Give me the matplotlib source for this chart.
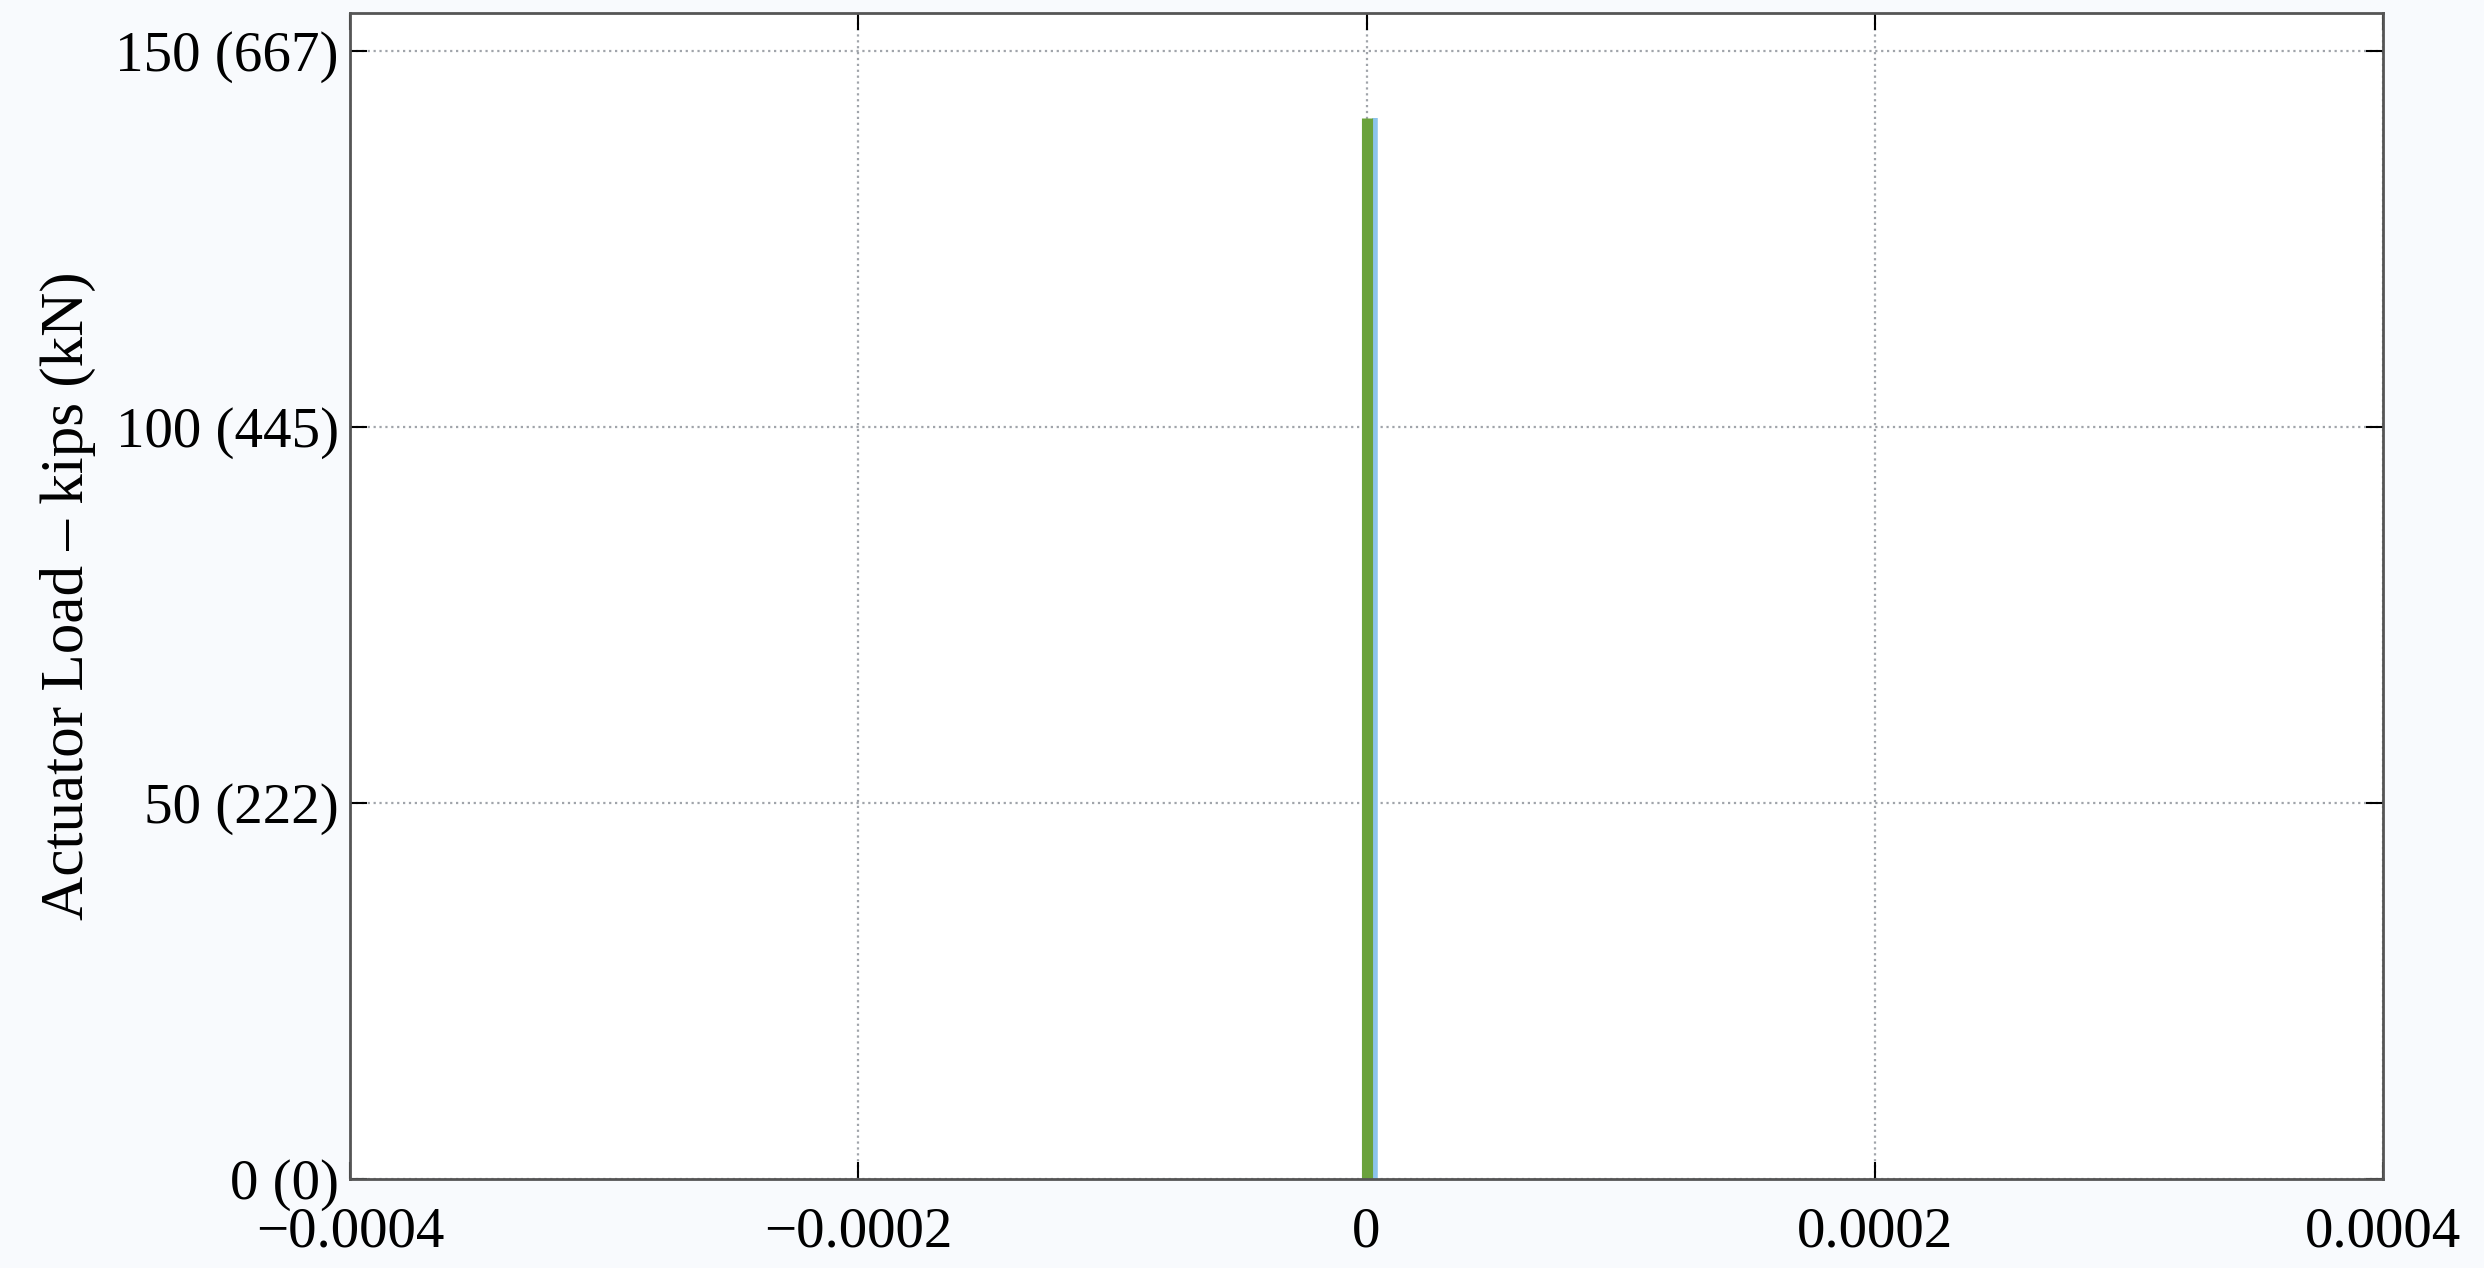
import matplotlib.pyplot as plt

# strain gauge readings vs actuator load
load_kips = [0, 141]
strain_gauge_a = [0.0, 0.0]
strain_gauge_b = [0.0000035, 0.0000035]

x_ticks = [-0.0004, -0.0002, 0, 0.0002, 0.0004]
x_tick_labels = ['\u22120.0004', '\u22120.0002', '0', '0.0002', '0.0004']
y_ticks = [0, 50, 100, 150]
y_tick_labels = ['0 (0)', '50 (222)', '100 (445)', '150 (667)']

plt.rcParams['font.family'] = ['Liberation Serif', 'DejaVu Serif']

fig = plt.figure(figsize=(24.84, 12.68), dpi=100)
fig.patch.set_facecolor('#f8fafd')
ax = fig.add_axes([350 / 2484, 1 - 1179 / 1268, 2033 / 2484, 1166 / 1268])
ax.set_facecolor('white')

ax.plot(strain_gauge_b, load_kips, color='#8cc4ec', lw=4, solid_capstyle='butt')
ax.plot(strain_gauge_a, load_kips, color='#6aa23c', lw=8, solid_capstyle='butt')

ax.set_xlim(-0.0004, 0.0004)
ax.set_ylim(0, 155)
ax.set_xticks(x_ticks)
ax.set_xticklabels(x_tick_labels)
ax.set_yticks(y_ticks)
ax.set_yticklabels(y_tick_labels)
ax.tick_params(direction='in', length=12, width=1.5, labelsize=41, top=True, right=True)
ax.tick_params(axis='x', pad=20)
ax.tick_params(axis='y', pad=8)

ax.grid(True, linestyle=':', color='#a0a4aa', linewidth=1.6)
for s in ax.spines.values():
    s.set_color('#555555')
    s.set_linewidth(2)

ax.set_ylabel('Actuator Load \u2013 kips (kN)', fontsize=44, labelpad=14)

fig.savefig('out.png', dpi=100, facecolor=fig.get_facecolor())
